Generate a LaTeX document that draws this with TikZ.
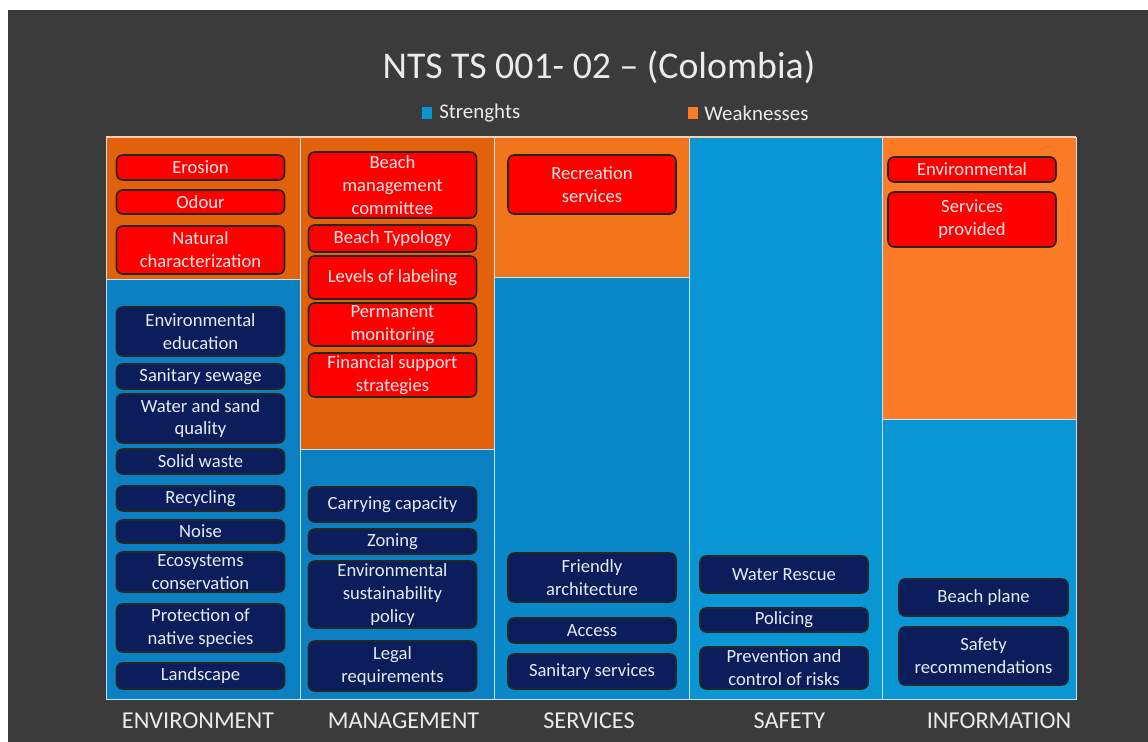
\documentclass[tikz,border=0pt]{standalone}
\usepackage{fontspec}
\setmainfont{Carlito}
\usepackage{tikz}
\usetikzlibrary{positioning}
\usepackage{color}
\definecolor{charcoal}{RGB}{59, 59, 59}
\definecolor{pumpkin}{RGB}{226, 98, 11}
\definecolor{carrot}{RGB}{242, 116, 26}
\definecolor{tangerine}{RGB}{253, 123, 39}
\definecolor{ocean}{RGB}{11, 128, 194}
\definecolor{sea}{RGB}{10, 137, 202}
\definecolor{sky}{RGB}{8, 150, 212}
\definecolor{scarlet}{RGB}{255, 0, 0}
\definecolor{navy}{RGB}{11, 29, 90}
\definecolor{blush}{RGB}{255, 232, 232}
\definecolor{mist}{RGB}{230, 236, 245}
\definecolor{silver}{RGB}{235, 235, 235}
\definecolor{peach}{RGB}{248, 208, 176}

\tikzset{
  weakbox/.style   ={draw=black!85, fill=scarlet, text=blush, rounded corners=3.5pt, line width=0.9pt,
                     font=\fontsize{10.6}{13}\selectfont, align=center, inner sep=0pt, minimum width=3.36cm},
  strongbox/.style ={weakbox, fill=navy, text=mist},
  cell/.style      ={draw=white!75!sky, line width=0.5pt},
  category/.style  ={text=silver, font=\fontsize{13.8}{16}\selectfont},
  legend/.style    ={text=silver, font=\fontsize{11.9}{14}\selectfont, anchor=west, inner sep=0pt},
}

\begin{document}
\begin{tikzpicture}[x=0.02cm, y=-0.02cm]
    \useasboundingbox (0,0) rectangle (1148,742);
    \fill[white]    (0,0)  rectangle (1148,742);
    \fill[charcoal] (8,10) rectangle (1148,742);

    % title and legend
    \node[text=silver, font=\fontsize{21.5}{25}\selectfont] (title) at (599,67) {NTS TS 001- 02 -- (Colombia)};
    \fill[sky]       (422,107) rectangle (432,119);
    \node[legend] (strenghts)  at (439,113) {Strenghts};
    \fill[tangerine] (688,107) rectangle (698,119);
    \node[legend] (weaknesses) at (704,113) {Weaknesses};

    % columns
    \filldraw[cell, fill=pumpkin]   ( 106,137) rectangle ( 300,279);
    \filldraw[cell, fill=ocean]     ( 106,279) rectangle ( 300,699);
    \filldraw[cell, fill=pumpkin]   ( 300,137) rectangle ( 494,449);
    \filldraw[cell, fill=ocean]     ( 300,449) rectangle ( 494,699);
    \filldraw[cell, fill=carrot]    ( 494,137) rectangle ( 689,277);
    \filldraw[cell, fill=sea]       ( 494,277) rectangle ( 689,699);
    \filldraw[cell, fill=sky]       ( 689,137) rectangle ( 882,699);
    \filldraw[cell, fill=tangerine] ( 882,137) rectangle (1076,419);
    \filldraw[cell, fill=sky]       ( 882,419) rectangle (1076,699);
    \draw[peach, line width=1pt]    ( 106,137) -- (1076,137);

    % environment
    \node[weakbox,   minimum height=0.50cm] (erosion)    at (200.5,167.5) {Erosion};
    \node[weakbox,   minimum height=0.48cm] (odour)      at (200.5,202)   {Odour};
    \node[weakbox,   minimum height=0.96cm] (natural)    at (200.5,250)   {Natural\\characterization};
    \node[strongbox, minimum height=0.98cm] (educ)       at (200.5,331.5) {Environmental\\education};
    \node[strongbox, minimum height=0.50cm] (sewage)     at (200.5,376.5) {Sanitary sewage};
    \node[strongbox, minimum height=0.98cm] (quality)    at (200.5,418.5) {Water and sand\\quality};
    \node[strongbox, minimum height=0.50cm] (waste)      at (200.5,461.5) {Solid waste};
    \node[strongbox, minimum height=0.50cm] (recycling)  at (200.5,498.5) {Recycling};
    \node[strongbox, minimum height=0.46cm] (noise)      at (200.5,531.5) {Noise};
    \node[strongbox, minimum height=0.80cm] (ecosystems) at (200.5,572)   {Ecosystems\\conservation};
    \node[strongbox, minimum height=0.96cm] (natives)    at (200.5,628)   {Protection of\\native species};
    \node[strongbox, minimum height=0.52cm] (landscape)  at (200.5,676)   {Landscape};

    % management
    \node[weakbox,   minimum height=1.32cm] (committee)  at (392.5,185)   {Beach\\management\\committee};
    \node[weakbox,   minimum height=0.54cm] (typology)   at (392.5,238.5) {Beach Typology};
    \node[weakbox,   minimum height=0.86cm] (labeling)   at (392.5,277.5) {Levels of labeling};
    \node[weakbox,   minimum height=0.86cm] (monitoring) at (392.5,324.5) {Permanent\\monitoring};
    \node[weakbox,   minimum height=0.88cm] (financial)  at (392.5,375)   {Financial support\\strategies};
    \node[strongbox, minimum height=0.70cm] (capacity)   at (392.5,504.5) {Carrying capacity};
    \node[strongbox, minimum height=0.50cm] (zoning)     at (392.5,541.5) {Zoning};
    \node[strongbox, minimum height=1.34cm] (policy)     at (392.5,594.5) {Environmental\\sustainability\\policy};
    \node[strongbox, minimum height=1.00cm] (legal)      at (392.5,666)   {Legal\\requirements};

    % services
    \node[weakbox,   minimum height=1.18cm] (recreation) at (592,184.5)   {Recreation\\services};
    \node[strongbox, minimum height=0.98cm] (friendly)   at (592,577.5)   {Friendly\\architecture};
    \node[strongbox, minimum height=0.50cm] (access)     at (592,630.5)   {Access};
    \node[strongbox, minimum height=0.70cm] (sanitary)   at (592,671.5)   {Sanitary services};

    % safety
    \node[strongbox, minimum height=0.74cm] (rescue)     at (784,574.5)   {Water Rescue};
    \node[strongbox, minimum height=0.48cm] (policing)   at (784,620)     {Policing};
    \node[strongbox, minimum height=0.84cm] (risks)      at (784,668)     {Prevention and\\control of risks};

    % information
    \node[weakbox,   minimum height=0.50cm] (environmental) at (972,169.5)   {Environmental};
    \node[weakbox,   minimum height=1.10cm] (provided)      at (972,219.5)   {Services\\provided};
    \node[strongbox, minimum height=0.74cm, minimum width=3.38cm] (plane)  at (983.5,597.5) {Beach plane};
    \node[strongbox, minimum height=1.16cm, minimum width=3.38cm] (advice) at (983.5,656)   {Safety\\recommendations};

    % categories
    \node[category] (environment) at (198,721)   {ENVIRONMENT};
    \node[category] (management)  at (403.5,721) {MANAGEMENT};
    \node[category] (services)    at (589,721)   {SERVICES};
    \node[category] (safety)      at (789.5,721) {SAFETY};
    \node[category] (information) at (999,721)   {INFORMATION};
\end{tikzpicture}
\end{document}
